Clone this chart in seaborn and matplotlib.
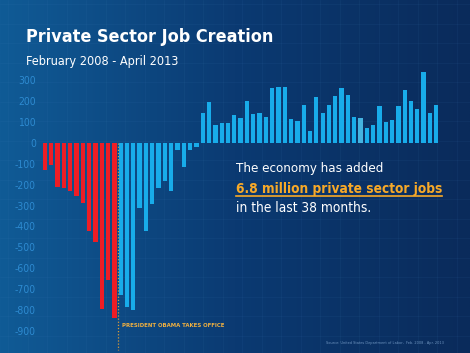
import os
import numpy as np
import pandas as pd
import matplotlib
import matplotlib.pyplot as plt
import seaborn as sns
from matplotlib import font_manager as fm
from matplotlib.colors import LinearSegmentedColormap

matplotlib.use("Agg")

# monthly change in private sector jobs (thousands)
months = pd.period_range("2008-02", "2013-04", freq="M").strftime("%Y-%m").tolist()
before_obama = [-130, -108, -213, -218, -229, -256, -289, -422, -476, -794, -656, -838]
after_losses = [-724, -784, -800, -310, -422, -292, -216, -181, -229, -38, -116, -35, -22]
after_gains = [142, 194, 85, 93, 93, 129, 117, 198, 136, 140,
               120, 258, 263, 266, 110, 102, 177, 53, 217,
               139, 179, 221, 258, 228, 121, 117, 71, 85, 172,
               98, 106, 172, 250, 198, 160, 334, 139, 177]
yticks = list(range(-900, 301, 100))

values = before_obama + after_losses + after_gains
period = ["before"] * len(before_obama) + ["after"] * (len(after_losses) + len(after_gains))
period[len(before_obama) + len(after_losses) + 25] = "light"
df = pd.DataFrame({"month": months, "jobs": values, "period": period})


# the original uses a condensed face; take the narrowest one the box has
def pick_font(names, weight):
    files = {os.path.basename(f.fname).lower(): f.fname for f in fm.fontManager.ttflist}
    for n in names:
        for base, path in files.items():
            if base.split(".")[0] == n.lower():
                return fm.FontProperties(fname=path)
    cands = [("Liberation Sans Narrow", "normal"), ("DejaVu Sans", "condensed"),
             ("Noto Sans", "condensed"), ("Open Sans", "condensed")]
    for fam, st in cands:
        try:
            path = fm.findfont(fm.FontProperties(family=fam, stretch=st, weight=weight),
                               fallback_to_default=False)
        except ValueError:
            continue
        if "condensed" in path.lower() or "narrow" in path.lower():
            return fm.FontProperties(fname=path)
    return fm.FontProperties(family="Liberation Sans", weight=weight)


reg = pick_font(["NotoSans-ExtraCondensed", "NotoSans-Condensed"], "normal")
bold = pick_font(["NotoSans-ExtraCondensedBold", "NotoSans-CondensedBold"], "bold")

W, H = 470, 353
fig = plt.figure(figsize=(4.7, 3.53), dpi=100)

# background gradient + faint blueprint grid
bg = fig.add_axes([0, 0, 1, 1])
cmap = LinearSegmentedColormap.from_list("bg", ["#105b96", "#0b3a72", "#0a2b5b"])
grad = np.tile(np.linspace(0, 1, 256), (2, 1))
bg.imshow(grad, aspect="auto", cmap=cmap, extent=[0, W, H, 0])
for gx in np.arange(8, W, 19.5):
    bg.axvline(gx, color="#4a8ac8", lw=0.5, alpha=0.1)
for gy in np.arange(4, H, 19.5):
    bg.axhline(gy, color="#4a8ac8", lw=0.5, alpha=0.1)
bg.set_xlim(0, W)
bg.set_ylim(H, 0)
bg.axis("off")

ax = fig.add_axes([40 / W, 0, 430 / W, 1])
ax.patch.set_alpha(0)
sns.barplot(data=df, x="month", y="jobs", hue="period", dodge=False, width=0.68,
            palette={"before": "#ee1d25", "after": "#18acea", "light": "#45b3e0"},
            saturation=1, legend=False, ax=ax)
ax.set_xlim(-0.79, 67.35)
ax.set_ylim(-1002.4, 678.6)
ax.set_xticks([])
ax.set_yticks(yticks)
ax.set_yticklabels([str(t) for t in yticks])
for lab in ax.get_yticklabels():
    lab.set_fontproperties(reg)
    lab.set_fontsize(7.5)
    lab.set_color("#2d8ad0")
ax.tick_params(axis="y", length=0, pad=3)
ax.set_xlabel("")
ax.set_ylabel("")
for s in ax.spines.values():
    s.set_visible(False)

# inauguration marker
ax.plot([11.5, 11.5], [0, -990], color="#d99a3a", lw=0.9, ls=(0, (1, 1.5)))
pres = ax.text(12.15, -870, "PRESIDENT OBAMA TAKES OFFICE", color="#f0b040",
               fontproperties=bold, fontsize=6.3, va="center", ha="left")


def fx(px):
    return px / W


def fy(py):
    return 1 - py / H


title = fig.text(fx(26), fy(42), "Private Sector Job Creation", color="white",
                 fontproperties=bold, fontsize=19, va="baseline")
sub = fig.text(fx(26), fy(65), "February 2008 - April 2013", color="white",
               fontproperties=reg, fontsize=12, va="baseline")
l1 = fig.text(fx(236), fy(172), "The economy has added", color="white",
              fontproperties=reg, fontsize=12.5, va="baseline")
hl = fig.text(fx(236), fy(193), "6.8 million private sector jobs", color="#f7a928",
              fontproperties=bold, fontsize=12.5, va="baseline")
l3 = fig.text(fx(236), fy(212), "in the last 38 months.", color="white",
              fontproperties=reg, fontsize=12.5, va="baseline")
src = fig.text(fx(444), fy(343), "Source: United States Department of Labor,  Feb. 2008 - Apr. 2013",
               color="#6f95c0", fontproperties=reg, fontsize=3.4, ha="right", va="center")

# size each text so it spans the same width as in the original
fig.canvas.draw()
r = fig.canvas.get_renderer()
for t, target in [(title, 247), (sub, 152), (l1, 148), (hl, 208), (l3, 134),
                  (pres, 104), (src, 119)]:
    w = t.get_window_extent(r).width
    t.set_fontsize(t.get_fontsize() * target / w)

fig.canvas.draw()
bb = hl.get_window_extent(r).transformed(fig.transFigure.inverted())
fig.add_artist(plt.Line2D([bb.x0, bb.x1], [fy(195.8), fy(195.8)], color="#f7a928",
                          lw=1.2, transform=fig.transFigure))

fig.savefig("out.png", dpi=100)
